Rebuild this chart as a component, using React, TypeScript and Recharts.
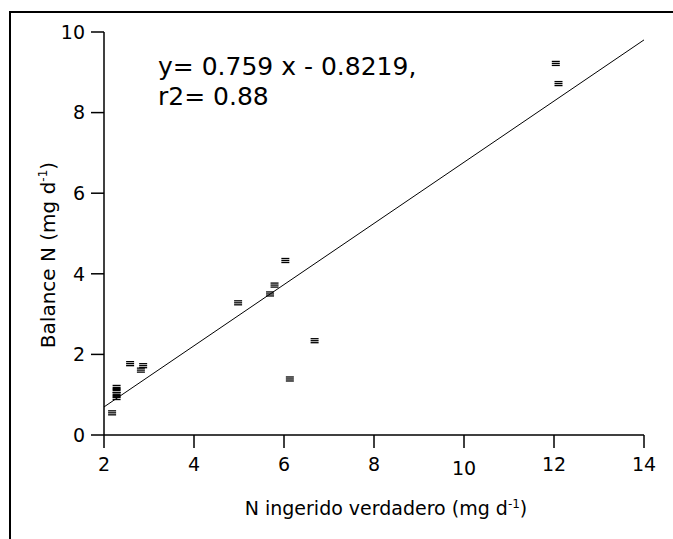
import React from 'react';
import { ScatterChart, Scatter, XAxis, YAxis } from 'recharts';

const nIngerido = [2.18, 2.28, 2.28, 2.28, 2.28, 2.58, 2.82, 2.87, 4.98, 5.69, 5.79, 6.03, 6.13, 6.68, 12.04, 12.1];
const balanceN = [0.55, 1.18, 1.1, 1.0, 0.93, 1.77, 1.61, 1.72, 3.28, 3.5, 3.72, 4.33, 1.39, 2.34, 9.22, 8.72];

const xTicks = [2, 4, 6, 8, 10, 12, 14];
const yTicks = [0, 2, 4, 6, 8, 10];

const slope = 0.759;
const intercept = -0.8219;
const fitX = [2, 14];

const points = nIngerido.map((x, i) => ({ x, y: balanceN[i] }));
const fitLine = fitX.map((x) => ({ x, y: slope * x + intercept }));

const FONT = '"DejaVu Sans", sans-serif';

const Marker = (props: any) => {
  const { cx, cy } = props;
  if (cx == null || cy == null) return null;
  return (
    <g stroke="#000" strokeWidth={1.3}>
      <line x1={cx - 4} x2={cx + 4} y1={cy - 2} y2={cy - 2} />
      <line x1={cx - 4} x2={cx + 4} y1={cy} y2={cy} />
      <line x1={cx - 4} x2={cx + 4} y1={cy + 2} y2={cy + 2} />
    </g>
  );
};

const XTick = (props: any) => {
  const { x, y, payload } = props;
  const dy = payload.value === 10 ? 4 : 0;
  return (
    <text x={x} y={y + dy} dy="0.71em" textAnchor="middle" fill="#000" fontSize={19} fontFamily={FONT}>
      {payload.value}
    </text>
  );
};

export default function App() {
  return (
    <div style={{ position: 'absolute', left: 0, top: 0, width: 673, height: 539, background: '#fff' }}>
      <ScatterChart width={673} height={539} margin={{ top: 32, right: 29, bottom: 44, left: 0 }}>
        <XAxis
          type="number"
          dataKey="x"
          domain={[2, 14]}
          ticks={xTicks}
          allowDataOverflow
          height={60}
          stroke="#000"
          strokeWidth={1.5}
          tickSize={13}
          tickMargin={10}
          tick={<XTick />}
        />
        <YAxis
          type="number"
          dataKey="y"
          domain={[0, 10]}
          ticks={yTicks}
          width={104}
          stroke="#000"
          strokeWidth={1.5}
          tickSize={13}
          tickMargin={6}
          tick={{ fill: '#000', fontSize: 19, fontFamily: FONT }}
        />
        <Scatter data={fitLine} line={{ stroke: '#000', strokeWidth: 1 }} shape={() => null} isAnimationActive={false} />
        <Scatter data={points} shape={<Marker />} isAnimationActive={false} />
      </ScatterChart>
      <svg width={673} height={539} style={{ position: 'absolute', left: 0, top: 0, pointerEvents: 'none' }}>
        <line x1={10} y1={12} x2={10} y2={539} stroke="#000" strokeWidth={2} />
        <line x1={9} y1={12} x2={673} y2={12} stroke="#000" strokeWidth={2} />
        <text x={158} y={75} fontSize={25} fontFamily={FONT} fill="#000">y= 0.759 x - 0.8219,</text>
        <text x={158} y={105} fontSize={25} fontFamily={FONT} fill="#000">r2= 0.88</text>
        <text x={386} y={515} textAnchor="middle" fontSize={19} fontFamily={FONT} fill="#000">
          N ingerido verdadero (mg d<tspan dy={-7} fontSize={12}>-1</tspan><tspan dy={7}>)</tspan>
        </text>
        <text
          transform="translate(55, 255) rotate(-90)"
          textAnchor="middle"
          fontSize={20}
          fontFamily={FONT}
          fill="#000"
        >
          Balance N (mg d<tspan dy={-8} fontSize={12}>-1</tspan><tspan dy={8}>)</tspan>
        </text>
      </svg>
    </div>
  );
}
